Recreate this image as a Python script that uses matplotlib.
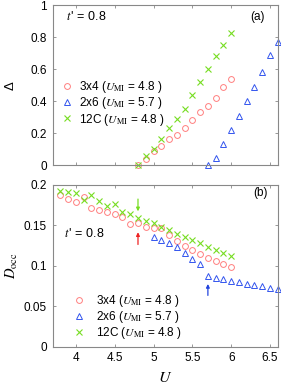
import matplotlib
matplotlib.use("Agg")
import matplotlib.pyplot as plt
import numpy as np

plt.rcParams['font.family'] = ['Liberation Sans', 'DejaVu Sans']
plt.rcParams['mathtext.fontset'] = 'stix'

# ---- data (panel a: gap Delta) ----
U_3x4_a = [4.8, 4.9, 5.0, 5.1, 5.2, 5.3, 5.4, 5.5, 5.6, 5.7, 5.8, 5.9, 6.0]
D_3x4 = [0.0, 0.035, 0.089, 0.12, 0.16, 0.19, 0.23, 0.28, 0.33, 0.37, 0.42, 0.49, 0.54]
U_12C_a = [4.8, 4.9, 5.0, 5.1, 5.2, 5.3, 5.4, 5.5, 5.6, 5.7, 5.8, 5.9, 6.0]
D_12C = [0.0, 0.054, 0.10, 0.16, 0.23, 0.29, 0.35, 0.44, 0.52, 0.60, 0.68, 0.75, 0.83]
U_2x6_a = [5.7, 5.8, 5.9, 6.0, 6.1, 6.2, 6.3, 6.4, 6.5, 6.6]
D_2x6 = [0.0, 0.043, 0.13, 0.22, 0.31, 0.40, 0.49, 0.58, 0.69, 0.77]

# ---- data (panel b: double occupancy) ----
U_3x4_b = [3.8, 3.9, 4.0, 4.1, 4.2, 4.3, 4.4, 4.5, 4.6, 4.7, 4.8, 4.9,
           5.0, 5.1, 5.2, 5.3, 5.4, 5.5, 5.6, 5.7, 5.8, 5.9, 6.0]
Docc_3x4 = [0.1876, 0.1827, 0.179, 0.1856, 0.171, 0.169, 0.167, 0.1645, 0.161,
            0.152, 0.153, 0.1485, 0.147, 0.1464, 0.1386, 0.131, 0.1245, 0.119,
            0.1146, 0.110, 0.1064, 0.1023, 0.0986]
U_12C_b = [3.8, 3.9, 4.0, 4.1, 4.2, 4.3, 4.4, 4.5, 4.6, 4.7, 4.8, 4.9,
           5.0, 5.1, 5.2, 5.3, 5.4, 5.5, 5.6, 5.7, 5.8, 5.9, 6.0]
Docc_12C = [0.1926, 0.191, 0.1897, 0.182, 0.1876, 0.180, 0.174, 0.1765, 0.166,
            0.1637, 0.1588, 0.1559, 0.1526, 0.1485, 0.1443, 0.140, 0.136, 0.132,
            0.1278, 0.1237, 0.1196, 0.1163, 0.1126]
U_2x6_b = [5.0, 5.1, 5.2, 5.3, 5.4, 5.5, 5.6, 5.7, 5.8, 5.9, 6.0, 6.1, 6.2,
           6.3, 6.4, 6.5, 6.6]
Docc_2x6 = [0.136, 0.132, 0.1278, 0.123, 0.116, 0.109, 0.1023, 0.0878, 0.0854,
            0.0833, 0.0817, 0.0796, 0.078, 0.0763, 0.0746, 0.073, 0.071]

labels = ["3x4 ($U_{\\rm MI}$ = 4.8 )", "2x6 ($U_{\\rm MI}$ = 5.7 )",
          "12C ($U_{\\rm MI}$ = 4.8 )"]
c_red = '#ff7f7f'
c_blue = '#3355ee'
c_green = '#77dd22'
spine_c = '#888888'

fig = plt.figure(figsize=(2.81, 3.85), dpi=100)
L, R = 0.187, 0.9886
axa = fig.add_axes([L, 0.5714, R - L, 0.986 - 0.5714])
axb = fig.add_axes([L, 0.0995, R - L, 0.5195 - 0.0995])

fs = 8.5
ms = 4.2
for ax in (axa, axb):
    ax.set_xlim(3.7, 6.6)
    ax.set_xticks([4, 4.5, 5, 5.5, 6, 6.5])
    ax.tick_params(direction='in', length=2.5, width=0.6, color=spine_c,
                   labelsize=fs, top=True, right=True, pad=4)
    for s in ax.spines.values():
        s.set_color(spine_c)
        s.set_linewidth(0.8)

def draw(ax, u1, y1, u2, y2, u3, y3):
    ax.plot(u1, y1, 'o', mfc='none', mec=c_red, ms=ms, mew=0.7,
            label=labels[0], clip_on=False)
    ax.plot(u2, y2, '^', mfc='none', mec=c_blue, ms=ms - 0.3, mew=0.7,
            label=labels[1], clip_on=False)
    ax.plot(u3, y3, 'x', color=c_green, ms=ms, mew=0.8,
            label=labels[2], clip_on=False)

# panel a
draw(axa, U_3x4_a, D_3x4, U_2x6_a, D_2x6, U_12C_a, D_12C)
axa.set_ylim(0, 1)
axa.set_yticks([0, 0.2, 0.4, 0.6, 0.8, 1])
axa.set_yticklabels(['0', '0.2', '0.4', '0.6', '0.8', '1'])
axa.set_xticklabels([])
axa.set_ylabel('Δ', fontsize=fs + 1, labelpad=10)
axa.text(0.06, 0.93, "$t\\,$' = 0.8", transform=axa.transAxes, fontsize=fs + 0.5,
         va='center', ha='left')
axa.text(0.94, 0.93, "(a)", transform=axa.transAxes, fontsize=fs,
         va='center', ha='right')
axa.legend(loc='upper left', bbox_to_anchor=(0.0, 0.59), frameon=False,
           fontsize=fs, handlelength=1.0, handletextpad=0.5,
           labelspacing=0.02, borderaxespad=0.3)

# panel b
draw(axb, U_3x4_b, Docc_3x4, U_2x6_b, Docc_2x6, U_12C_b, Docc_12C)
axb.set_ylim(0, 0.2)
axb.set_yticks([0, 0.05, 0.1, 0.15, 0.2])
axb.set_yticklabels(['0', '0.05', '0.1', '0.15', '0.2'])
axb.set_xticklabels(['4', '4.5', '5', '5.5', '6', '6.5'])
axb.set_ylabel("$D_{\\rm occ}$", fontsize=fs + 2, labelpad=3)
axb.set_xlabel("$U$", fontsize=fs + 3, labelpad=4)
axb.text(0.05, 0.70, "$t\\,$' = 0.8", transform=axb.transAxes, fontsize=fs + 0.5,
         va='center', ha='left')
axb.text(0.955, 0.95, "(b)", transform=axb.transAxes, fontsize=fs,
         va='center', ha='right')
axb.legend(loc='upper left', bbox_to_anchor=(0.055, 0.385), frameon=False,
           fontsize=fs, handlelength=1.0, handletextpad=0.9,
           labelspacing=0.02, borderaxespad=0.3)

arrow_kw = dict(arrowstyle='-|>', lw=0.9, mutation_scale=5)
axb.annotate('', xy=(4.8, 0.164), xytext=(4.8, 0.186),
             arrowprops=dict(color=c_green, **arrow_kw))
axb.annotate('', xy=(4.8, 0.145), xytext=(4.8, 0.123),
             arrowprops=dict(color='#ee2222', **arrow_kw))
axb.annotate('', xy=(5.7, 0.081), xytext=(5.7, 0.060),
             arrowprops=dict(color='#2244dd', **arrow_kw))

fig.savefig('out.png', dpi=100)
